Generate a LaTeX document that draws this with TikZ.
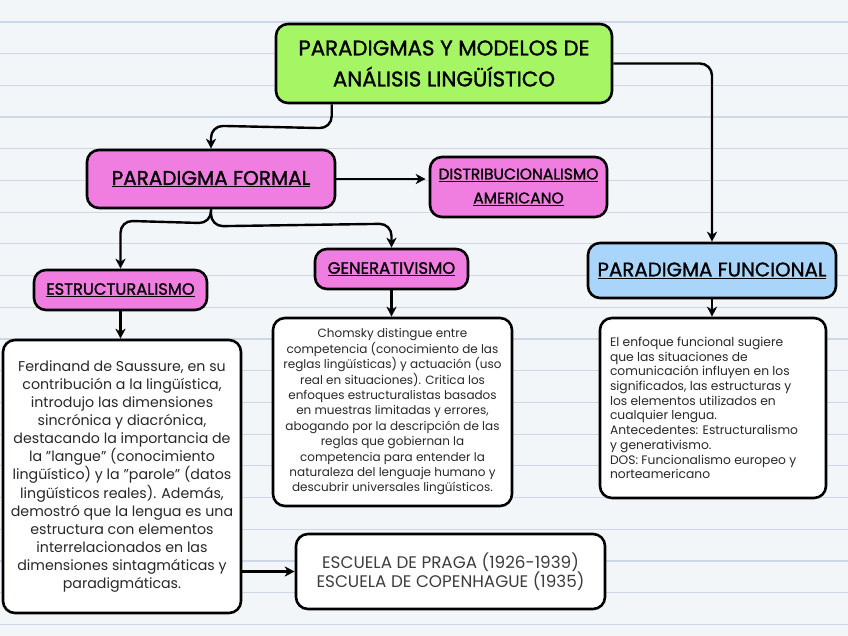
\documentclass[tikz,border=0pt]{standalone}
\usepackage{fontspec}
\setmainfont{Poppins}
\newfontfamily\titlefont[FakeBold=1.2]{Poppins}
\usetikzlibrary{arrows.meta,calc}
\definecolor{bg}{RGB}{243,246,249}
\definecolor{paperline}{RGB}{205,215,230}
\definecolor{greenA}{RGB}{166,245,100}
\definecolor{pinkA}{RGB}{240,126,224}
\definecolor{blueA}{RGB}{170,213,250}
\definecolor{txt}{RGB}{40,40,40}
\newcommand{\myul}[1]{\underline{#1}}
\newcommand{\sq}{\symbol{34}}
\begin{document}
\begin{tikzpicture}[x=1pt,y=-1pt,
  box/.style={draw=black,line width=2.6pt,rounded corners=12pt,inner sep=0pt,align=center},
  titlebox/.style={box},
  bodybox/.style={box,fill=white,text=txt},
  conn/.style={line width=2.4pt,rounded corners=12pt,-{Stealth[length=10pt,width=10pt,inset=3pt]}}]
\fill[bg] (0,0) rectangle (848,636);
\useasboundingbox (0,0) rectangle (848,636);
\foreach \k in {0,...,19}{\draw[paperline,line width=1.2pt] (0,22+31.7*\k) -- (848,22+31.7*\k);}

\node[box,fill=greenA,minimum width=336pt,minimum height=79pt,font=\titlefont\fontsize{21.3}{31}\selectfont] (top) at (444,63.5) {PARADIGMAS Y MODELOS DE\\ANÁLISIS LINGÜÍSTICO};
\node[titlebox,fill=pinkA,minimum width=248pt,minimum height=58pt,font=\titlefont\fontsize{20}{24}\selectfont] (formal) at (211,179) {\myul{PARADIGMA FORMAL}};
\node[titlebox,fill=pinkA,minimum width=177pt,minimum height=60pt,font=\titlefont\fontsize{15.5}{24}\selectfont] (distrib) at (518.5,187) {\myul{DISTRIBUCIONALISMO}\\\myul{AMERICANO}};
\node[titlebox,fill=pinkA,minimum width=173pt,minimum height=40pt,font=\titlefont\fontsize{16.3}{19}\selectfont] (estr) at (120.5,290) {\myul{ESTRUCTURALISMO}};
\node[titlebox,fill=pinkA,minimum width=153pt,minimum height=40pt,font=\titlefont\fontsize{16.5}{19}\selectfont] (gen) at (391.5,269) {\myul{GENERATIVISMO}};
\node[titlebox,fill=blueA,minimum width=248pt,minimum height=55pt,font=\titlefont\fontsize{19.8}{23}\selectfont] (func) at (712,270.5) {\myul{PARADIGMA FUNCIONAL}};

\node[bodybox,minimum width=238pt,minimum height=273pt,font=\fontsize{14.2}{18.1}\selectfont] (saus) at (122,476.5) {Ferdinand de Saussure, en su\\contribución a la lingüística,\\introdujo las dimensiones\\sincrónica y diacrónica,\\destacando la importancia de\\la \sq langue\sq{} (conocimiento\\lingüístico) y la \sq parole\sq{} (datos\\lingüísticos reales). Además,\\demostró que la lengua es una\\estructura con elementos\\interrelacionados en las\\dimensiones sintagmáticas y\\paradigmáticas.};
\node[bodybox,minimum width=239pt,minimum height=188pt,font=\fontsize{12}{15.4}\selectfont] (chom) at (392.5,412) {Chomsky distingue entre\\competencia (conocimiento de las\\reglas lingüísticas) y actuación (uso\\real en situaciones). Critica los\\enfoques estructuralistas basados\\en muestras limitadas y errores,\\abogando por la descripción de las\\reglas que gobiernan la\\competencia para entender la\\naturaleza del lenguaje humano y\\descubrir universales lingüísticos.};
\node[bodybox,minimum width=226pt,minimum height=180pt,align=left,font=\fontsize{12.3}{14.7}\selectfont] (ftext) at (713,408) {\begin{minipage}{206pt}\raggedright El enfoque funcional sugiere\\que las situaciones de\\comunicación influyen en los\\significados, las estructuras y\\los elementos utilizados en\\cualquier lengua.\\Antecedentes: Estructuralismo\\y generativismo.\\DOS: Funcionalismo europeo y\\norteamericano\end{minipage}};
\node[bodybox,minimum width=309pt,minimum height=75pt,text=txt!90,font=\fontsize{16.8}{19.5}\selectfont] (esc) at (450.5,571.5) {ESCUELA DE PRAGA (1926-1939)\\ESCUELA DE COPENHAGUE (1935)};

\draw[conn] ($(top.south west)+(57,0)$) -- ++(0,24) -- ($(formal.north)+(0,-23)$) -- (formal.north);
\draw[conn] (top.east) -- (top.east -| func.north) -- (func.north);
\draw[conn,shorten >=3pt] (formal.east) -- (formal.east -| distrib.west);
\draw[conn] (formal.south) -- ++(0,14) -- ($(estr.north)+(0,-48)$) -- (estr.north);
\draw[conn] (formal.south) -- ++(0,17) -- ($(gen.north)+(0,-24)$) -- (gen.north);
\draw[conn] (estr.south) -- (estr.south |- saus.north);
\draw[conn] (gen.south) -- (gen.south |- chom.north);
\draw[conn] (func.south) -- (func.south |- ftext.north);
\draw[conn] (saus.east |- esc.west) -- (esc.west);
\end{tikzpicture}
\end{document}
